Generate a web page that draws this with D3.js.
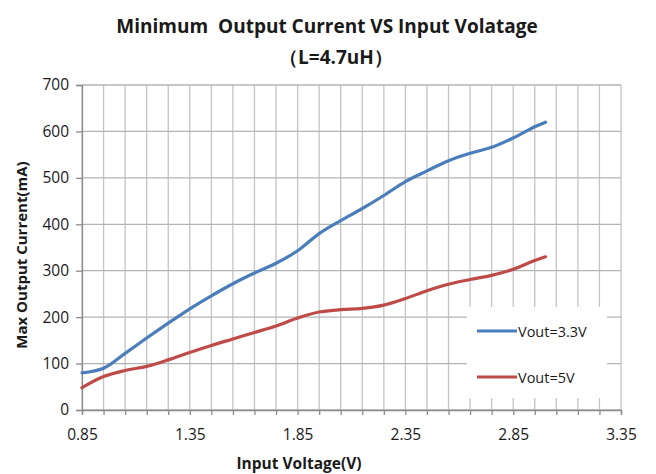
<!DOCTYPE html>
<html>
<head>
<meta charset="utf-8">
<script src="https://cdn.jsdelivr.net/npm/d3@7"></script>
<style>
  body { margin: 0; background: #fff; }
  text { font-family: "Open Sans", Lato, sans-serif; fill: #1a1a1a; }
</style>
</head>
<body>
<div id="chart"></div>
<script>
// input voltage (V)
var voltage = [0.85, 0.95, 1.05, 1.15, 1.25, 1.35, 1.45, 1.55, 1.65, 1.75, 1.85, 1.95,
               2.05, 2.15, 2.25, 2.35, 2.45, 2.55, 2.65, 2.75, 2.85, 2.95, 3.0];
// max output current (mA)
var vout33 = [80, 90, 122, 155, 187, 218, 246, 272, 295, 316, 343, 380,
              408, 434, 462, 492, 515, 537, 553, 566, 586, 610, 620];
var vout5 = [48, 72, 85, 94, 108, 124, 139, 153, 167, 181, 198, 211,
             216, 219, 226, 240, 257, 271, 281, 290, 303, 322, 330];
var seriesNames = ["Vout=3.3V", "Vout=5V"];
var xTicks = [0.85, 1.35, 1.85, 2.35, 2.85, 3.35];
var yTicks = [0, 100, 200, 300, 400, 500, 600, 700];

var width = 656, height = 474;
var margin = { top: 85, right: 35, bottom: 64, left: 82 };
var colors = ["#4a7ebb", "#be4b48"];

var svg = d3.select("#chart").append("svg")
  .attr("width", width)
  .attr("height", height);

svg.append("rect").attr("width", width).attr("height", height).attr("fill", "#fff");

var x = d3.scaleLinear().domain([0.85, 3.35]).range([margin.left, width - margin.right]);
var y = d3.scaleLinear().domain([0, 700]).range([height - margin.bottom, margin.top]);

// minor vertical grid every 0.1V
var xMinor = d3.range(0, 26).map(function(i) { return +(0.85 + i * 0.1).toFixed(2); });

svg.append("g").attr("class", "vgrid")
  .selectAll("line").data(xMinor).enter().append("line")
  .attr("x1", function(d) { return x(d); })
  .attr("x2", function(d) { return x(d); })
  .attr("y1", y(0))
  .attr("y2", y(700))
  .attr("stroke", "#c4c4c4")
  .attr("stroke-width", 1.3);

svg.append("g").attr("class", "hgrid")
  .selectAll("line").data(yTicks).enter().append("line")
  .attr("x1", x(0.85))
  .attr("x2", x(3.35))
  .attr("y1", function(d) { return y(d); })
  .attr("y2", function(d) { return y(d); })
  .attr("stroke", "#b4b4b4")
  .attr("stroke-width", 1.3);

// axes
var yAxis = d3.axisLeft(y).tickValues(yTicks).tickSize(6).tickPadding(7);
var gy = svg.append("g")
  .attr("transform", "translate(" + margin.left + ",0)")
  .call(yAxis);
gy.select(".domain").attr("stroke", "#8c8c8c").attr("stroke-width", 1.3);
gy.selectAll(".tick line").attr("stroke", "#8c8c8c").attr("stroke-width", 1.3);
gy.selectAll("text").style("font-size", "15.5px").attr("fill", "#1a1a1a");

var xAxis = d3.axisBottom(x).tickValues(xMinor).tickSize(5).tickFormat("");
var gx = svg.append("g")
  .attr("transform", "translate(0," + y(0) + ")")
  .call(xAxis);
gx.select(".domain").attr("stroke", "#8c8c8c").attr("stroke-width", 1.3);
gx.selectAll(".tick line").attr("stroke", "#8c8c8c").attr("stroke-width", 1.3);

var xLabels = d3.axisBottom(x).tickValues(xTicks).tickSize(0).tickPadding(19)
  .tickFormat(d3.format(".2f"));
var gxl = svg.append("g")
  .attr("transform", "translate(0," + y(0) + ")")
  .call(xLabels);
gxl.select(".domain").remove();
gxl.selectAll("text").style("font-size", "15.5px").attr("fill", "#1a1a1a");

// lines
var line = d3.line()
  .curve(d3.curveCatmullRom)
  .x(function(d, i) { return x(voltage[i]); })
  .y(function(d) { return y(d); });

[vout33, vout5].forEach(function(data, i) {
  svg.append("path")
    .attr("d", line(data))
    .attr("fill", "none")
    .attr("stroke", colors[i])
    .attr("stroke-width", 3.2)
    .attr("stroke-linecap", "round");
});

// legend
svg.append("rect")
  .attr("x", 467).attr("y", 307)
  .attr("width", 140).attr("height", 91)
  .attr("fill", "#fff");

var legends = svg.selectAll(".legend")
  .data(seriesNames)
  .enter()
  .append("g")
  .attr("class", "legend")
  .attr("transform", function(d, i) { return "translate(477," + (331 + i * 46) + ")"; });

legends.append("line")
  .attr("x1", 0).attr("x2", 40)
  .attr("stroke", function(d, i) { return colors[i]; })
  .attr("stroke-width", 3.2);

legends.append("text")
  .attr("x", 41)
  .attr("y", 5.5)
  .style("font-size", "14.5px")
  .text(function(d) { return d; });

// titles
svg.append("text")
  .attr("x", 327).attr("y", 33)
  .attr("text-anchor", "middle")
  .style("font-size", "19px").style("font-weight", "bold")
  .style("white-space", "pre")
  .text("Minimum  Output Current VS Input Volatage");

svg.append("text")
  .attr("x", 336).attr("y", 64)
  .attr("text-anchor", "middle")
  .style("font-size", "19px").style("font-weight", "bold")
  .text("（L=4.7uH）");

svg.append("text")
  .attr("x", 299).attr("y", 469)
  .attr("text-anchor", "middle")
  .style("font-size", "15.5px").style("font-weight", "bold")
  .text("Input Voltage(V)");

svg.append("text")
  .attr("transform", "translate(27,255) rotate(-90)")
  .attr("text-anchor", "middle")
  .style("font-size", "15px").style("font-weight", "bold")
  .text("Max Output Current(mA)");
</script>
</body>
</html>
